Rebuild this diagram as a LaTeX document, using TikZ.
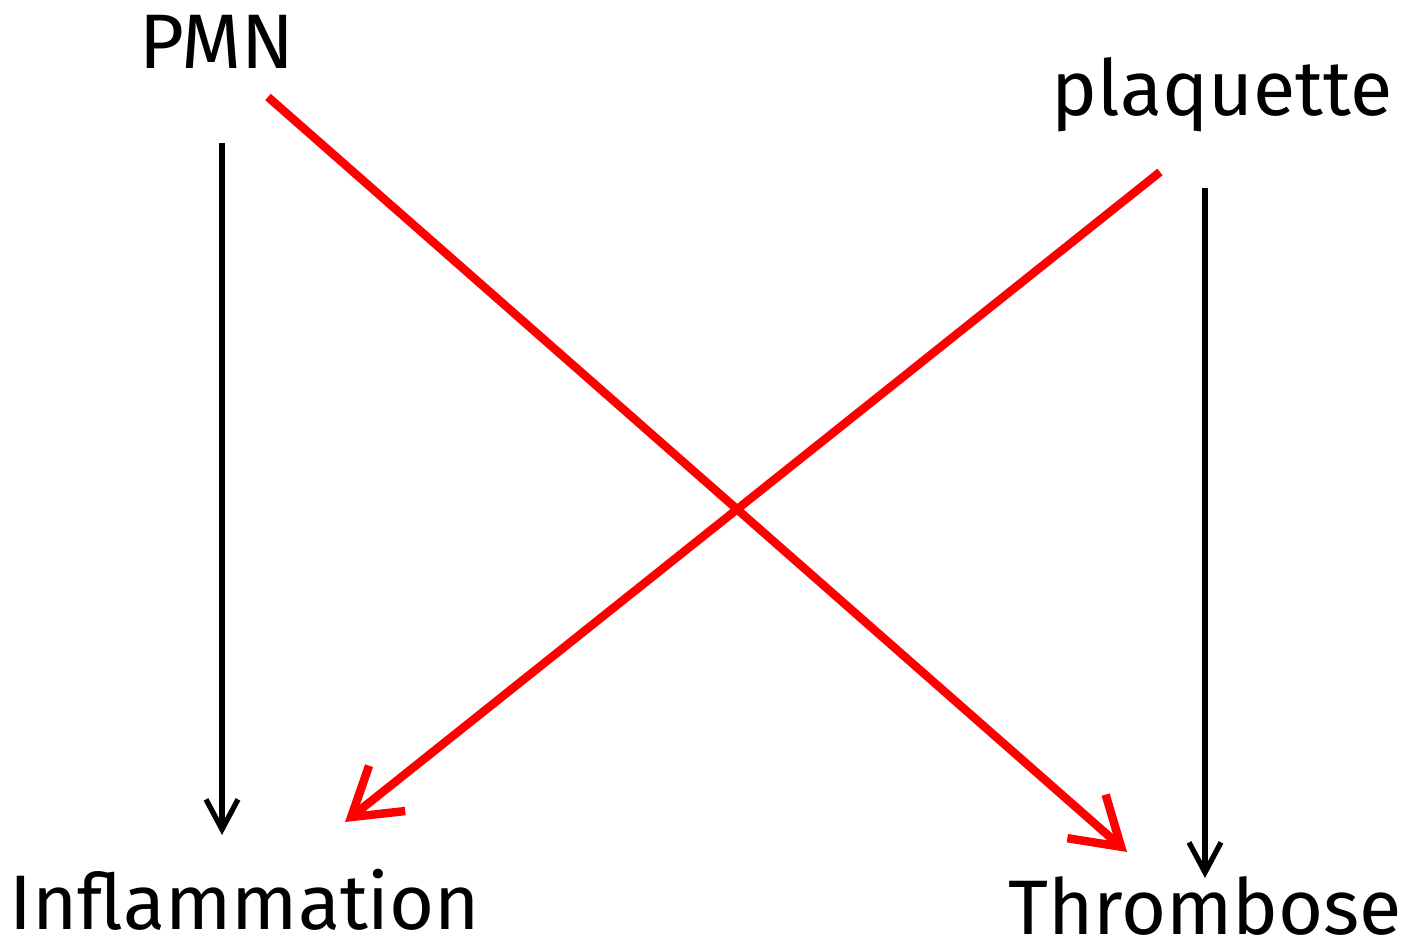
\documentclass[tikz,border=0pt]{standalone}
\usepackage{fontspec}
\setmainfont{Fira Sans}
\usetikzlibrary{arrows.meta}
\tikzset{
  label/.style={font=\fontsize{22}{26}\selectfont, inner sep=0pt},
  blackarrow/.style={black, line width=1.5pt, -{Straight Barb[length=3mm,width=3.2mm,line width=1.5pt]}},
  redarrow/.style={red, line width=2.4pt, -{Straight Barb[length=4.6mm,width=5.8mm,line width=2.4pt]}}
}
\begin{document}
\begin{tikzpicture}
            \useasboundingbox (0,0) rectangle (14.05,9.5);

            \node[label] (pmn) at (2.17,9.08) {PMN};
            \node[label] (plaq) at (12.22,8.55) {plaquette};
            \node[label] (infl) at (2.45,0.50) {Inflammation};
            \node[label] (thromb) at (12.05,0.44) {Thrombose};

            \coordinate (pmnout) at (2.22,8.07);
            \coordinate (pmnx) at (2.68,8.53);
            \coordinate (plaqout) at (12.05,7.62);
            \coordinate (plaqx) at (11.60,7.78);
            \coordinate (inflin) at (2.22,1.15);
            \coordinate (inflx) at (3.45,1.28);
            \coordinate (thrombin) at (12.05,0.72);
            \coordinate (thrombx) at (11.27,0.98);

            \draw[blackarrow] (pmnout) -- (inflin);
            \draw[blackarrow] (plaqout) -- (thrombin);
            \draw[redarrow] (pmnx) -- (thrombx);
            \draw[redarrow] (plaqx) -- (inflx);
        \end{tikzpicture}
\end{document}
